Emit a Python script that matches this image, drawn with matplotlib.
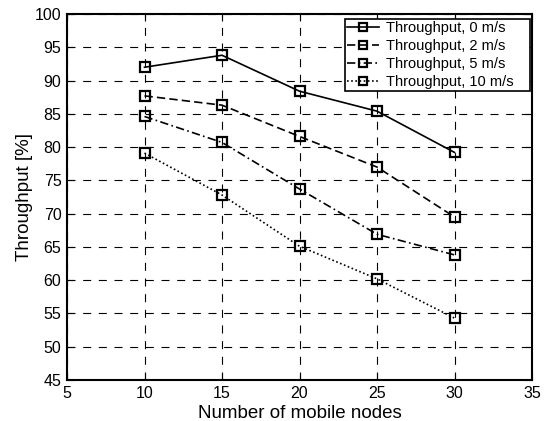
import matplotlib
matplotlib.use("Agg")
import matplotlib.pyplot as plt

plt.rcParams['font.family'] = ['Liberation Sans', 'DejaVu Sans']

nodes = [10, 15, 20, 25, 30]
tp_0 = [92.0, 93.8, 88.4, 85.4, 79.2]
tp_2 = [87.7, 86.3, 81.6, 77.0, 69.5]
tp_5 = [84.6, 80.7, 73.7, 66.9, 63.8]
tp_10 = [79.1, 72.8, 65.1, 60.2, 54.3]
labels = ["Throughput, 0 m/s", "Throughput, 2 m/s", "Throughput, 5 m/s", "Throughput, 10 m/s"]
styles = ['-', (0, (5, 2.5)), (0, (5, 2, 1, 2)), (0, (1, 1.5))]

fig = plt.figure(figsize=(5.44, 4.21), dpi=100)
ax = fig.add_axes([67/544, 1 - 380/421, 465/544, 366/421])

for ys, ls, lab in zip([tp_0, tp_2, tp_5, tp_10], styles, labels):
    ax.plot(nodes, ys, linestyle=ls, color='black', linewidth=1.2,
            marker='s', markersize=7.3, markerfacecolor='none',
            markeredgecolor='black', markeredgewidth=1.6, label=lab)

ax.set_xlim(5, 35)
ax.set_ylim(45, 100)
ax.set_xticks(range(5, 36, 5))
ax.set_yticks(range(45, 101, 5))
ax.grid(True, linestyle=(0, (7.2, 6.9)), color='black', linewidth=0.8)
ax.tick_params(direction='in', top=True, right=True, labelsize=11.5, length=5, pad=4)
for s in ax.spines.values():
    s.set_linewidth(1.5)
ax.set_xlabel("Number of mobile nodes", fontsize=13.5, labelpad=3)
ax.set_ylabel("Throughput [%]", fontsize=13.5, labelpad=1)

# legend entries get a little trailing room before the right frame edge
handles, names = ax.get_legend_handles_labels()
leg = ax.legend(handles, [n + "\u2003" for n in names],
                loc='upper right', bbox_to_anchor=(1 - 2/465, 1 - 5/366),
                borderaxespad=0, fontsize=10.5, frameon=True, fancybox=False,
                edgecolor='black', framealpha=1,
                handlelength=2.2, handletextpad=0.45, labelspacing=0.27,
                borderpad=0.15, markerscale=0.7)
leg.get_frame().set_linewidth(1.2)

fig.savefig("out.png", dpi=100)
